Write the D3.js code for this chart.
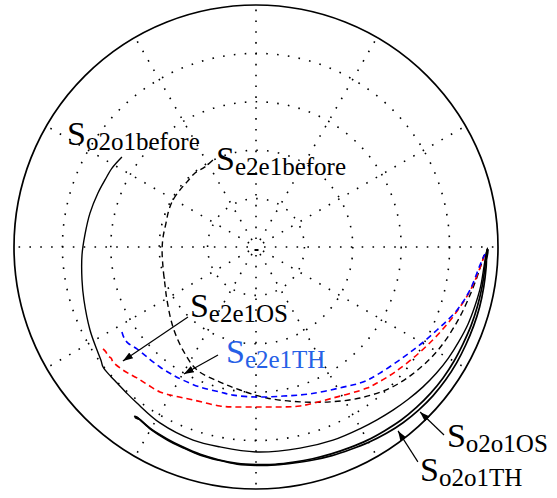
<!DOCTYPE html>
<html>
<head>
<meta charset="utf-8">
<script src="https://cdn.jsdelivr.net/npm/d3@7"></script>
<style>
  html, body { margin: 0; padding: 0; background: #fff; }
  svg { display: block; }
</style>
</head>
<body>
<svg id="chart" width="557" height="498"></svg>
<script>
// ---------- DATA (complex reflection values: [real, imaginary]) ----------
const ringTicks = [0.2, 0.4, 0.6, 0.8];
const spokeAngles = [0, 30, 60, 90, 120, 150, 180, 210, 240, 270, 300, 330];

const so2o1Before = [
  [-0.554,0.372],[-0.595,0.326],[-0.624,0.277],[-0.653,0.223],[-0.686,0.140],
  [-0.707,0.050],[-0.719,-0.033],[-0.719,-0.136],[-0.711,-0.219],[-0.686,-0.343],
  [-0.657,-0.426],[-0.640,-0.470],[-0.632,-0.496],[-0.600,-0.535],[-0.574,-0.562],
  [-0.535,-0.603],[-0.492,-0.645],[-0.397,-0.727],[-0.260,-0.798],[-0.149,-0.826],
  [0.004,-0.847],[0.182,-0.831],[0.318,-0.798],[0.433,-0.749],[0.500,-0.714],
  [0.566,-0.674],[0.629,-0.629],[0.689,-0.579],[0.745,-0.522],[0.795,-0.459],
  [0.838,-0.391],[0.876,-0.319],[0.905,-0.243],[0.928,-0.164],[0.942,-0.082],
  [0.950,-0.033],[0.955,-0.010],[0.948,-0.045]
];

const so2o1OS = [
  [-0.500,-0.700],[-0.486,-0.712],[-0.497,-0.701],[-0.492,-0.703],[-0.434,-0.752],
  [-0.369,-0.792],[-0.301,-0.827],[-0.230,-0.857],[-0.155,-0.879],[-0.078,-0.894],
  [0.000,-0.899],[0.079,-0.898],[0.157,-0.889],[0.234,-0.875],[0.311,-0.855],
  [0.387,-0.829],[0.461,-0.798],[0.532,-0.759],[0.600,-0.715],[0.663,-0.663],
  [0.721,-0.605],[0.773,-0.541],[0.818,-0.472],[0.856,-0.399],[0.889,-0.324],
  [0.915,-0.245],[0.934,-0.165],[0.946,-0.083],[0.951,-0.033],[0.957,-0.005],
  [0.949,-0.050]
];

const so2o1TH = [
  [-0.503,-0.698],[-0.490,-0.709],[-0.499,-0.705],[-0.493,-0.704],[-0.435,-0.753],
  [-0.370,-0.795],[-0.302,-0.829],[-0.230,-0.860],[-0.155,-0.881],[-0.078,-0.897],
  [0.000,-0.902],[0.079,-0.900],[0.157,-0.892],[0.236,-0.880],[0.314,-0.862],
  [0.390,-0.837],[0.466,-0.807],[0.539,-0.770],[0.609,-0.725],[0.673,-0.673],
  [0.732,-0.614],[0.784,-0.549],[0.829,-0.479],[0.867,-0.404],[0.899,-0.327],
  [0.924,-0.248],[0.941,-0.166],[0.951,-0.083],[0.954,-0.033],[0.960,-0.012],
  [0.952,-0.055]
];

const se2e1Before = [
  [-0.178,0.360],[-0.211,0.331],[-0.252,0.306],[-0.285,0.269],[-0.314,0.236],
  [-0.343,0.194],[-0.360,0.153],[-0.372,0.099],[-0.384,0.041],[-0.388,-0.012],
  [-0.384,-0.087],[-0.376,-0.157],[-0.368,-0.219],[-0.343,-0.331],[-0.302,-0.426],
  [-0.244,-0.508],[-0.149,-0.558],[-0.066,-0.591],[0.045,-0.624],[0.182,-0.640],
  [0.306,-0.640],[0.430,-0.624],[0.554,-0.583],[0.657,-0.517],[0.752,-0.426],
  [0.835,-0.302],[0.893,-0.178],[0.926,-0.087],[0.942,-0.033]
];

const se2e1OS = [
  [-0.632,-0.421],[-0.620,-0.434],[-0.612,-0.450],[-0.599,-0.459],[-0.591,-0.475],
  [-0.562,-0.500],[-0.529,-0.521],[-0.492,-0.541],[-0.446,-0.570],[-0.397,-0.599],
  [-0.335,-0.616],[-0.260,-0.632],[-0.149,-0.657],[-0.095,-0.661],[0.004,-0.661],
  [0.099,-0.661],[0.182,-0.657],[0.318,-0.624],[0.459,-0.583],[0.500,-0.562],
  [0.574,-0.517],[0.678,-0.434],[0.769,-0.343],[0.843,-0.248],[0.893,-0.165],
  [0.930,-0.074],[0.946,-0.029]
];

const se2e1TH = [
  [-0.554,-0.351],[-0.545,-0.376],[-0.529,-0.397],[-0.492,-0.421],[-0.450,-0.455],
  [-0.397,-0.496],[-0.343,-0.529],[-0.302,-0.550],[-0.231,-0.579],[-0.149,-0.599],
  [-0.095,-0.612],[0.004,-0.620],[0.112,-0.616],[0.223,-0.607],[0.360,-0.579],
  [0.442,-0.558],[0.512,-0.521],[0.649,-0.426],[0.748,-0.343],[0.831,-0.260],
  [0.884,-0.178],[0.926,-0.074],[0.946,-0.029]
];

// Label anchors (data units) and arrows (tail -> head, data units)
const labelMain = ["S", "S", "S", "S", "S", "S"];
const labelSub = ["o2o1before", "e2e1before", "e2e1OS", "e2e1TH", "o2o1OS", "o2o1TH"];
const labelAt = [[-0.781,0.421],[-0.165,0.318],[-0.273,-0.289],[-0.124,-0.479],[0.789,-0.826],[0.678,-0.967]];
const labelColor = ["#000", "#000", "#000", "#2660e6", "#000", "#000"];
const arrows = [
  [[-0.281,-0.289],[-0.550,-0.471]],
  [[-0.157,-0.446],[-0.298,-0.525]],
  [[0.777,-0.777],[0.678,-0.682]],
  [[0.669,-0.888],[0.587,-0.760]]
];

// ---------- LAYOUT ----------
const cx = 256, cy = 247, R = 242;
const svg = d3.select("#chart");
const x = d3.scaleLinear().domain([-1, 1]).range([cx - R, cx + R]);
const y = d3.scaleLinear().domain([-1, 1]).range([cy + R, cy - R]);
const rs = d3.scaleLinear().domain([0, 1]).range([0, R]);

const period = 10.85, dot = 1.6;
const dotDash = `${dot},${period - dot}`;

// rings
svg.append("g").selectAll("circle").data(ringTicks).join("circle")
  .attr("cx", x(0)).attr("cy", y(0)).attr("r", d => rs(d))
  .attr("fill", "none").attr("stroke", "#000").attr("stroke-width", 1.6)
  .attr("stroke-dasharray", dotDash);

// spokes
svg.append("g").selectAll("line").data(spokeAngles).join("line")
  .attr("x1", x(0)).attr("y1", y(0))
  .attr("x2", d => x(Math.cos(d * Math.PI / 180)))
  .attr("y2", d => y(Math.sin(d * Math.PI / 180)))
  .attr("stroke", "#000").attr("stroke-width", 1.6)
  .attr("stroke-dasharray", dotDash)
  .attr("stroke-dashoffset", period - 8.0);

svg.append("rect").attr("x", x(0) - 1.5).attr("y", y(0) + 2).attr("width", 4).attr("height", 2).attr("fill", "#000");

// outer circle
svg.append("circle").attr("cx", x(0)).attr("cy", y(0)).attr("r", rs(1))
  .attr("fill", "none").attr("stroke", "#000").attr("stroke-width", 1.7);

// curves
const line = d3.line().x(d => x(d[0])).y(d => y(d[1])).curve(d3.curveCatmullRom.alpha(0.5));
const series = [
  { d: so2o1Before, color: "#000", w: 1.4, dash: null },
  { d: so2o1OS, color: "#000", w: 1.7, dash: null },
  { d: so2o1TH, color: "#000", w: 1.7, dash: null },
  { d: se2e1Before, color: "#000", w: 1.4, dash: "6,4" },
  { d: se2e1OS, color: "#ff0000", w: 1.6, dash: "6,4" },
  { d: se2e1TH, color: "#0000ff", w: 1.6, dash: "6,4" }
];
svg.append("g").selectAll("path").data(series).join("path")
  .attr("d", s => line(s.d))
  .attr("fill", "none").attr("stroke", s => s.color).attr("stroke-width", s => s.w)
  .attr("stroke-dasharray", s => s.dash);

// arrows
const defs = svg.append("defs");
defs.append("marker").attr("id", "ah").attr("viewBox", "0 0 10 10")
  .attr("refX", 10).attr("refY", 5).attr("markerWidth", 10).attr("markerHeight", 10)
  .attr("markerUnits", "userSpaceOnUse").attr("orient", "auto")
  .append("path").attr("d", "M0,1.5 L10,5 L0,8.5 Z").attr("fill", "#000");

svg.append("g").selectAll("line").data(arrows).join("line")
  .attr("x1", d => x(d[0][0])).attr("y1", d => y(d[0][1]))
  .attr("x2", d => x(d[1][0])).attr("y2", d => y(d[1][1]))
  .attr("stroke", "#000").attr("stroke-width", 1.2)
  .attr("marker-end", "url(#ah)");

// labels
const lg = svg.append("g").attr("font-family", "'Liberation Serif', 'Times New Roman', serif");
labelSub.forEach((sub, i) => {
  const t = lg.append("text").attr("x", x(labelAt[i][0])).attr("y", y(labelAt[i][1]))
    .attr("fill", labelColor[i]);
  t.append("tspan").attr("font-size", 34).text(labelMain[i]);
  t.append("tspan").attr("font-size", 25).attr("dy", 5).text(sub);
});
</script>
</body>
</html>
